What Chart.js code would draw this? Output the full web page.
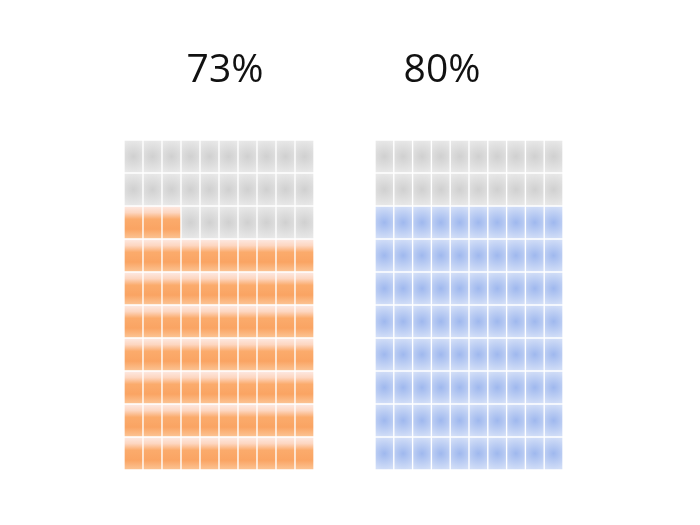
<!DOCTYPE html>
<html>
<head>
<meta charset="utf-8">
<script src="https://cdn.jsdelivr.net/npm/chart.js@4.4.1/dist/chart.umd.min.js"></script>
<style>
    html, body { margin: 0; padding: 0; background: #fff; }
    #wrap { position: relative; width: 700px; height: 525px; overflow: hidden; }
    canvas { position: absolute; top: 0; }
    #left { left: 0; }
    #right { left: 321px; }
</style>
</head>
<body>
<div id="wrap">
    <canvas id="left" width="450" height="525"></canvas>
    <canvas id="right" width="242" height="525"></canvas>
</div>
<script>
// waffle values (percent of 100 cells) and their titles
const percents = [73, 80];
const titles = ['73%', '80%'];
const columns = ['1', '2', '3', '4', '5', '6', '7', '8', '9', '10'];
const rowCount = 10;

function cellBox(ctx) {
    const chart = ctx.chart;
    const x = chart.scales.x;
    const y = chart.scales.y;
    if (!chart.chartArea || !x || !y) return null;
    const w = x.width / columns.length;
    const cx = x.getPixelForValue(ctx.dataIndex);
    const bottom = y.getPixelForValue(ctx.datasetIndex);
    const top = y.getPixelForValue(ctx.datasetIndex + 1);
    return { left: cx - w / 2, right: cx + w / 2, top: top, bottom: bottom };
}

function cellFill(percent, kind) {
    return function (ctx) {
        const filled = ctx.datasetIndex * columns.length + ctx.dataIndex < percent;
        const box = cellBox(ctx);
        const c = ctx.chart.ctx;
        if (!box) return filled ? (kind === 'orange' ? '#fbab6c' : '#b4c8f1') : '#dcdcdc';
        const cx = (box.left + box.right) / 2;
        const cy = (box.top + box.bottom) / 2;
        const h = box.bottom - box.top;
        let g;
        if (!filled) {
            g = c.createRadialGradient(cx, cy, 0, cx, cy, h / 2);
            g.addColorStop(0, '#d0d0d0');
            g.addColorStop(1, '#e8e8e8');
        } else if (kind === 'orange') {
            g = c.createLinearGradient(0, box.top, 0, box.bottom);
            g.addColorStop(0, '#fdeae4');
            g.addColorStop(0.2, '#fdd6c0');
            g.addColorStop(0.4, '#fbab6c');
            g.addColorStop(0.7, '#faa463');
            g.addColorStop(1, '#fcc596');
        } else {
            g = c.createRadialGradient(cx, cy, 0, cx, cy, h / 2);
            g.addColorStop(0, '#9fb8ee');
            g.addColorStop(1, '#d2def7');
        }
        return g;
    };
}

// title drawn at a fixed spot above each grid (not centred on the grid in the original)
const titlePlugin = {
    id: 'waffleTitle',
    afterDraw(chart, args, opts) {
        const c = chart.ctx;
        c.save();
        c.fillStyle = '#111111';
        c.font = 'normal 39px "Open Sans"';
        c.textAlign = 'center';
        c.textBaseline = 'alphabetic';
        c.fillText(opts.text, opts.x, 82);
        c.restore();
    }
};

function makeWaffle(id, percent, title, kind, padLeft, padRight, titleX) {
    const datasets = [];
    for (let r = 0; r < rowCount; r++) {
        datasets.push({
            data: columns.map(() => 1),
            backgroundColor: cellFill(percent, kind),
            borderColor: '#ffffff',
            borderWidth: 1,
            borderSkipped: false,
            barPercentage: 1,
            categoryPercentage: 1
        });
    }
    new Chart(document.getElementById(id), {
        type: 'bar',
        data: { labels: columns, datasets: datasets },
        plugins: [titlePlugin],
        options: {
            responsive: false,
            animation: false,
            layout: { padding: { left: padLeft, right: padRight, top: 140, bottom: 55 } },
            plugins: {
                legend: { display: false },
                tooltip: { enabled: false },
                title: { display: false },
                waffleTitle: { text: title, x: titleX }
            },
            scales: {
                x: { display: false, stacked: true },
                y: { display: false, stacked: true, min: 0, max: rowCount }
            }
        }
    });
}

makeWaffle('left', percents[0], titles[0], 'orange', 124, 136, 225);
makeWaffle('right', percents[1], titles[1], 'blue', 54, 0, 121);
</script>
</body>
</html>
